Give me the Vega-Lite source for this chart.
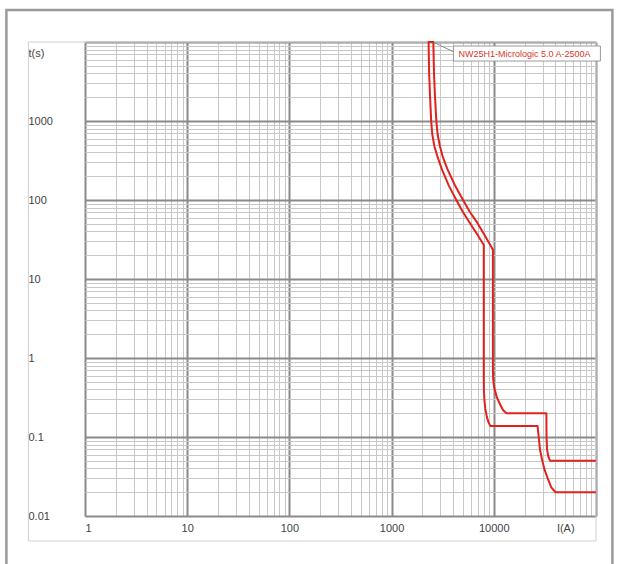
{
  "$schema": "https://vega.github.io/schema/vega-lite/v6.json",
  "width": 511,
  "height": 474,
  "autosize": {"type": "none"},
  "padding": {"left": 85, "top": 42, "right": 21, "bottom": 48},
  "background": "white",
  "config": {"view": {"stroke": null}, "font": "Liberation Sans"},
  "datasets": {
    "curve": [
      {"o": 1, "I": 100000, "t": 0.02},
      {"o": 2, "I": 40100, "t": 0.02},
      {"o": 3, "I": 36500, "t": 0.023},
      {"o": 4, "I": 34000, "t": 0.029},
      {"o": 5, "I": 31500, "t": 0.038},
      {"o": 6, "I": 29700, "t": 0.051},
      {"o": 7, "I": 28300, "t": 0.07},
      {"o": 8, "I": 27500, "t": 0.1},
      {"o": 9, "I": 27000, "t": 0.125},
      {"o": 10, "I": 26800, "t": 0.138},
      {"o": 11, "I": 9260, "t": 0.138},
      {"o": 12, "I": 8900, "t": 0.152},
      {"o": 13, "I": 8550, "t": 0.18},
      {"o": 14, "I": 8250, "t": 0.23},
      {"o": 15, "I": 8080, "t": 0.3},
      {"o": 16, "I": 8000, "t": 0.4},
      {"o": 17, "I": 7980, "t": 0.6},
      {"o": 18, "I": 7980, "t": 27},
      {"o": 19, "I": 6900, "t": 36.5},
      {"o": 20, "I": 5900, "t": 50},
      {"o": 21, "I": 5000, "t": 70},
      {"o": 22, "I": 4300, "t": 100},
      {"o": 23, "I": 3650, "t": 150},
      {"o": 24, "I": 3120, "t": 240},
      {"o": 25, "I": 2800, "t": 360},
      {"o": 26, "I": 2620, "t": 480},
      {"o": 27, "I": 2500, "t": 680},
      {"o": 28, "I": 2440, "t": 1000},
      {"o": 29, "I": 2380, "t": 2000},
      {"o": 30, "I": 2330, "t": 4000},
      {"o": 31, "I": 2300, "t": 10000},
      {"o": 32, "I": 2560, "t": 10000},
      {"o": 33, "I": 2600, "t": 4000},
      {"o": 34, "I": 2660, "t": 2000},
      {"o": 35, "I": 2740, "t": 1000},
      {"o": 36, "I": 2820, "t": 680},
      {"o": 37, "I": 2960, "t": 490},
      {"o": 38, "I": 3150, "t": 360},
      {"o": 39, "I": 3500, "t": 250},
      {"o": 40, "I": 4150, "t": 155},
      {"o": 41, "I": 5000, "t": 100},
      {"o": 42, "I": 5850, "t": 70},
      {"o": 43, "I": 6870, "t": 52},
      {"o": 44, "I": 8000, "t": 37},
      {"o": 45, "I": 9000, "t": 28.5},
      {"o": 46, "I": 9800, "t": 23.5},
      {"o": 47, "I": 9800, "t": 0.8},
      {"o": 48, "I": 9850, "t": 0.55},
      {"o": 49, "I": 10100, "t": 0.42},
      {"o": 50, "I": 10700, "t": 0.32},
      {"o": 51, "I": 11500, "t": 0.26},
      {"o": 52, "I": 12300, "t": 0.22},
      {"o": 53, "I": 13300, "t": 0.2},
      {"o": 54, "I": 32700, "t": 0.2},
      {"o": 55, "I": 32800, "t": 0.1},
      {"o": 56, "I": 33200, "t": 0.07},
      {"o": 57, "I": 34000, "t": 0.058},
      {"o": 58, "I": 35000, "t": 0.052},
      {"o": 59, "I": 35800, "t": 0.05},
      {"o": 60, "I": 100000, "t": 0.05}
    ],
    "frame_outer": [{"I": 0.1702, "I2": 144700, "t": 25400, "t2": 0.00155}],
    "frame_inner": [{"I": 0.2793, "I2": 100000, "t": 10000, "t2": 0.004826}],
    "leader": [{"I": 2620, "I2": 4024, "t": 9800, "t2": 7540}],
    "labelbox": [{"I": 4024, "I2": 110400, "t": 8900, "t2": 5740}],
    "labeltext": [{"I": 4505, "t": 7140, "name": "NW25H1-Micrologic 5.0 A-2500A"}]
  },
  "encoding": {
    "x": {
      "field": "I",
      "type": "quantitative",
      "scale": {"type": "log", "domain": [1, 100000], "nice": false},
      "axis": {
        "title": null,
        "domain": false,
        "ticks": false,
        "grid": true,
        "values": [1,2,3,4,5,6,7,8,9,10,20,30,40,50,60,70,80,90,100,200,300,400,500,600,700,800,900,1000,2000,3000,4000,5000,6000,7000,8000,9000,10000,20000,30000,40000,50000,60000,70000,80000,90000,100000],
        "gridColor": {"condition": {"test": "abs(log(datum.value)/LN10 - round(log(datum.value)/LN10)) < 0.000001", "value": "#8a8a8a"}, "value": "#c8c8c8"},
        "gridWidth": {"condition": {"test": "abs(log(datum.value)/LN10 - round(log(datum.value)/LN10)) < 0.000001", "value": 2}, "value": 1},
        "labelExpr": "datum.value == 50000 ? 'I(A)' : (datum.value < 99999 && abs(log(datum.value)/LN10 - round(log(datum.value)/LN10)) < 0.000001 ? format(datum.value, 'd') : '')",
        "labelOverlap": false,
        "labelFontSize": 11,
        "labelColor": "#444444",
        "labelPadding": 6
      }
    },
    "y": {
      "field": "t",
      "type": "quantitative",
      "scale": {"type": "log", "domain": [0.01, 10000], "nice": false},
      "axis": {
        "title": null,
        "domain": false,
        "ticks": false,
        "grid": true,
        "values": [0.01,0.02,0.03,0.04,0.05,0.06,0.07,0.08,0.09,0.1,0.2,0.3,0.4,0.5,0.6,0.7,0.8,0.9,1,2,3,4,5,6,7,8,9,10,20,30,40,50,60,70,80,90,100,200,300,400,500,600,700,800,900,1000,2000,3000,4000,5000,6000,7000,8000,9000,10000],
        "gridColor": {"condition": {"test": "abs(log(datum.value)/LN10 - round(log(datum.value)/LN10)) < 0.000001", "value": "#8a8a8a"}, "value": "#c8c8c8"},
        "gridWidth": {"condition": {"test": "abs(log(datum.value)/LN10 - round(log(datum.value)/LN10)) < 0.000001", "value": 2}, "value": 1},
        "labelExpr": "datum.value > 9999 ? 't(s)' : (abs(log(datum.value)/LN10 - round(log(datum.value)/LN10)) < 0.000001 ? format(datum.value, '~g') : '')",
        "labelOverlap": false,
        "labelFontSize": 11,
        "labelColor": "#444444",
        "labelAlign": "left",
        "labelBaseline": "middle",
        "labelPadding": 57,
        "labelOffset": {"condition": {"test": "datum.value > 9999", "value": 11}, "value": 0}
      }
    }
  },
  "layer": [
    {
      "data": {"name": "frame_outer"},
      "mark": {"type": "rect", "fillOpacity": 0, "stroke": "#9a9a9a", "strokeWidth": 2.5},
      "encoding": {"x2": {"field": "I2"}, "y2": {"field": "t2"}}
    },
    {
      "data": {"name": "frame_inner"},
      "mark": {"type": "rect", "fillOpacity": 0, "stroke": "#d0d0d0", "strokeWidth": 1},
      "encoding": {"x2": {"field": "I2"}, "y2": {"field": "t2"}}
    },
    {
      "data": {"name": "curve"},
      "mark": {"type": "line", "color": "#e3211c", "strokeWidth": 2, "strokeJoin": "round"},
      "encoding": {"order": {"field": "o", "type": "quantitative"}}
    },
    {
      "data": {"name": "leader"},
      "mark": {"type": "rule", "color": "#8a8a8a", "strokeWidth": 1},
      "encoding": {"x2": {"field": "I2"}, "y2": {"field": "t2"}}
    },
    {
      "data": {"name": "labelbox"},
      "mark": {"type": "rect", "fill": "white", "stroke": "#9a9a9a", "strokeWidth": 1},
      "encoding": {"x2": {"field": "I2"}, "y2": {"field": "t2"}}
    },
    {
      "data": {"name": "labeltext"},
      "mark": {"type": "text", "align": "left", "baseline": "middle", "fontSize": 9, "color": "#d9342b"},
      "encoding": {"text": {"field": "name"}}
    }
  ]
}
